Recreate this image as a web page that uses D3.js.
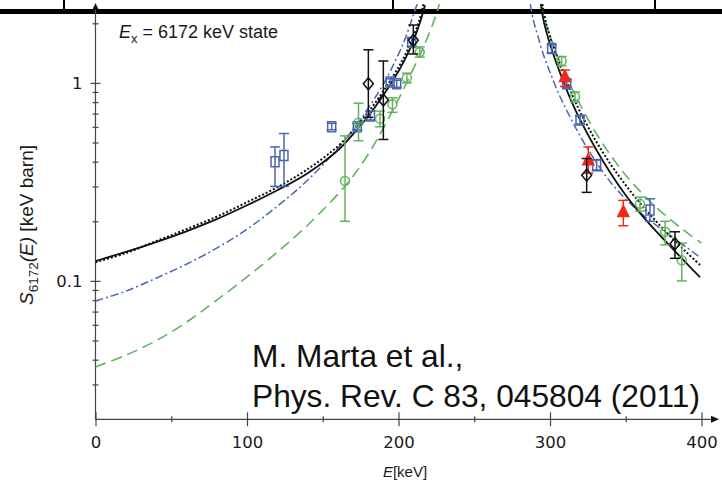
<!DOCTYPE html>
<html>
<head>
<meta charset="utf-8">
<script src="https://cdn.jsdelivr.net/npm/d3@7"></script>
<style>
  html, body { margin: 0; padding: 0; background: #fff; }
  svg { display: block; }
</style>
</head>
<body>
<div id="chart"></div>
<script>
// Ex = 6172 keV state, E in keV, S in keV barn
// points: [E, S, lower, upper]
const squares = [
	[118.5, 0.40, 0.30, 0.475], [124.4, 0.43, 0.30, 0.555], [155.9, 0.60, 0.58, 0.625],
	[172.8, 0.60, 0.58, 0.625], [181.5, 0.68, 0.65, 0.72], [194.5, 1.01, 0.97, 1.05],
	[198.8, 0.99, 0.95, 1.03], [208.7, 1.60, 1.53, 1.68],
	[301.1, 1.49, 1.42, 1.56], [311.0, 0.99, 0.95, 1.04], [319.8, 0.65, 0.62, 0.68],
	[330.8, 0.385, 0.36, 0.41], [366.0, 0.228, 0.20, 0.26]
];
const circles = [
	[164.7, 0.32, 0.20, 0.54], [173.6, 0.63, 0.51, 0.79], [187.8, 0.66, 0.60, 0.72],
	[196.0, 0.78, 0.71, 0.84], [205.5, 1.06, 1.00, 1.12], [214.0, 1.43, 1.35, 1.52],
	[307.7, 1.29, 1.22, 1.36], [316.5, 0.85, 0.80, 0.90], [359.4, 0.245, 0.225, 0.265],
	[376.0, 0.177, 0.152, 0.20], [387.0, 0.127, 0.10, 0.155]
];
const diamonds = [
	[180.1, 0.99, 0.67, 1.47], [190.0, 0.82, 0.518, 1.29], [209.8, 1.64, 1.40, 1.96],
	[324.2, 0.342, 0.28, 0.415], [382.5, 0.154, 0.13, 0.177]
];
const triangles = [
	[309.9, 1.07, 0.96, 1.16], [325.3, 0.407, 0.35, 0.475], [348.4, 0.223, 0.19, 0.255]
];

// calculated S-factor curves: [E, S], below and above the resonance
const solidLeft = [[0, 0.126], [20, 0.140], [40, 0.157], [60, 0.178], [80, 0.205], [100, 0.241], [120, 0.287], [140, 0.350], [160, 0.457], [170, 0.551], [180, 0.679], [190, 0.867], [200, 1.146], [205, 1.348], [210, 1.643], [214, 2.0], [217.5, 2.47]];
const solidRight = [[294, 2.498], [296, 2.026], [300, 1.569], [305, 1.2145], [310, 0.9623], [315, 0.7803], [320, 0.6481], [330, 0.4679], [340, 0.3499], [350, 0.2709], [360, 0.2172], [370, 0.1782], [380, 0.148], [390, 0.1229], [399, 0.1044]];
const dottedLeft = [[0, 0.1243], [20, 0.1381], [40, 0.1588], [60, 0.1824], [80, 0.211], [100, 0.2497], [120, 0.2973], [140, 0.3665], [160, 0.4789], [170, 0.5768], [180, 0.7112], [190, 0.9081], [200, 1.2], [205, 1.413], [210, 1.722], [214, 2.098], [216.5, 2.5]];
const dottedRight = [[295, 2.498], [297, 2.074], [300, 1.722], [305, 1.3332], [310, 1.0561], [315, 0.8566], [320, 0.7112], [330, 0.5135], [340, 0.3885], [350, 0.3043], [360, 0.244], [370, 0.2002], [380, 0.1662], [390, 0.1396], [400, 0.1186]];
const dashDotLeft = [[0, 0.0792], [20, 0.0887], [40, 0.1032], [60, 0.1214], [80, 0.1463], [100, 0.1824], [120, 0.2383], [140, 0.3224], [160, 0.4679], [170, 0.5768], [180, 0.745], [190, 0.9849], [200, 1.396], [205, 1.722], [210, 2.223], [212.3, 2.5]];
const dashDotRight = [[287, 2.498], [289, 2.074], [292, 1.722], [296, 1.364], [300, 1.133], [305, 0.9081], [310, 0.7538], [315, 0.6332], [320, 0.538], [330, 0.4023], [340, 0.3151], [350, 0.2586], [360, 0.2198], [370, 0.1911], [380, 0.1682], [390, 0.148], [399, 0.1317]];
const dashedLeft = [[0, 0.03678], [20, 0.04215], [40, 0.04989], [60, 0.06185], [80, 0.07991], [100, 0.1047], [120, 0.1396], [140, 0.1911], [160, 0.2741], [170, 0.338], [180, 0.4364], [190, 0.5903], [200, 0.8274], [210, 1.1867], [215, 1.4294], [220, 1.762], [224, 2.122], [227, 2.498]];
const dashedRight = [[294, 2.498], [297, 2.026], [300, 1.722], [305, 1.364], [310, 1.106], [315, 0.9186], [320, 0.7718], [330, 0.5636], [340, 0.4313], [350, 0.3419], [360, 0.2805], [370, 0.2356], [380, 0.2026], [390, 0.1762], [400, 0.155]];

const xTicks = [0, 100, 200, 300, 400];
const xMinor = [50, 150, 250, 350];
const yTicks = [0.1, 1];
const yMinor = [0.03, 0.04, 0.05, 0.06, 0.07, 0.08, 0.09, 0.2, 0.3, 0.4, 0.5, 0.6, 0.7, 0.8, 0.9, 2];

const citation = ['M. Marta et al.,', 'Phys. Rev. C 83, 045804 (2011)'];

const width = 722;
const height = 482;

const blue = '#4a66b0',
	green = '#62b35e',
	red = '#f2281c',
	axisColor = '#444';

const svg = d3
	.select('#chart')
	.append('svg')
	.attr('width', width)
	.attr('height', height)
	.attr('viewBox', [0, 0, width, height]);

const x = d3.scaleLinear().domain([0, 400]).range([95.5, 701.5]);
const y = d3.scaleLog().domain([0.02, 2.5]).range([419.3, 4.1]);

// header rule of the slide
svg.append('rect').attr('x', 0).attr('y', 9).attr('width', width).attr('height', 5).attr('fill', '#000');
svg
	.selectAll('line.sep')
	.data([64, 393, 655])
	.enter()
	.append('line')
	.attr('class', 'sep')
	.attr('x1', (d) => d)
	.attr('x2', (d) => d)
	.attr('y1', 0)
	.attr('y2', 10)
	.attr('stroke', '#000')
	.attr('stroke-width', 2);

// axes
const gx = svg
	.append('g')
	.attr('transform', 'translate(0,' + y.range()[0] + ')')
	.call(d3.axisBottom(x).tickValues(xTicks).tickSize(7).tickPadding(10).tickSizeOuter(0));
gx.selectAll('.tick line').attr('y1', -7);
gx.select('.domain').remove();

const gxm = svg
	.append('g')
	.attr('transform', 'translate(0,' + y.range()[0] + ')')
	.call(d3.axisBottom(x).tickValues(xMinor).tickSize(3).tickFormat(''));
gxm.selectAll('.tick line').attr('y1', -3);
gxm.select('.domain').remove();

const gy = svg
	.append('g')
	.attr('transform', 'translate(' + x(0) + ',0)')
	.call(d3.axisLeft(y).tickValues(yTicks).tickFormat(d3.format('~g')).tickSize(5).tickPadding(8));
gy.selectAll('.tick line').attr('x1', 5);
gy.select('.domain').remove();

const gym = svg
	.append('g')
	.attr('transform', 'translate(' + x(0) + ',0)')
	.call(d3.axisLeft(y).tickValues(yMinor).tickSize(3).tickFormat(''));
gym.selectAll('.tick line').attr('x1', 3);
gym.select('.domain').remove();

svg
	.selectAll('.tick line')
	.attr('stroke', axisColor)
	.attr('stroke-width', 1.2);
svg
	.selectAll('.tick text')
	.style('font-family', '"DejaVu Sans", sans-serif')
	.style('font-size', '16.5px')
	.attr('fill', '#1a1a1a');

// axis lines with arrow heads
svg
	.append('line')
	.attr('x1', x(0))
	.attr('x2', 713)
	.attr('y1', y.range()[0])
	.attr('y2', y.range()[0])
	.attr('stroke', axisColor)
	.attr('stroke-width', 1.2);
svg
	.append('path')
	.attr('d', 'M711,415.8L719,419.3L711,422.8Z')
	.attr('fill', '#111');
svg
	.append('line')
	.attr('x1', x(0))
	.attr('x2', x(0))
	.attr('y1', y.range()[0])
	.attr('y2', 6)
	.attr('stroke', axisColor)
	.attr('stroke-width', 1.2);
svg
	.append('path')
	.attr('d', 'M92.5,9.5L95.5,3L98.5,9.5Z')
	.attr('fill', '#111');

// curves
svg
	.append('clipPath')
	.attr('id', 'plot-clip')
	.append('rect')
	.attr('x', x(0))
	.attr('y', 4.1)
	.attr('width', 720 - x(0))
	.attr('height', y.range()[0] - 4.1);

const line = d3
	.line()
	.x((d) => x(d[0]))
	.y((d) => y(d[1]))
	.curve(d3.curveCatmullRom.alpha(0.5));

const curves = svg.append('g').attr('clip-path', 'url(#plot-clip)').attr('fill', 'none');

const curveStyles = [
	{ data: [dashedLeft, dashedRight], color: green, width: 1.6, dash: '11,6' },
	{ data: [dashDotLeft, dashDotRight], color: blue, width: 1.5, dash: '8,3,2,3' },
	{ data: [dottedLeft, dottedRight], color: '#111', width: 2, dash: '2,2' },
	{ data: [solidLeft, solidRight], color: '#111', width: 1.8, dash: null }
];

curveStyles.forEach((s) => {
	curves
		.selectAll(null)
		.data(s.data)
		.enter()
		.append('path')
		.attr('d', line)
		.attr('stroke', s.color)
		.attr('stroke-width', s.width)
		.attr('stroke-dasharray', s.dash);
});

// data points with error bars
function drawPoints(data, color, shape, filled) {
	const g = svg.append('g').attr('stroke', color).attr('stroke-width', 1.5).attr('fill', 'none');
	const pt = g.selectAll('g').data(data).enter().append('g');

	pt.append('line')
		.attr('x1', (d) => x(d[0]))
		.attr('x2', (d) => x(d[0]))
		.attr('y1', (d) => y(d[2]))
		.attr('y2', (d) => y(d[3]));
	pt.append('line')
		.attr('x1', (d) => x(d[0]) - 5)
		.attr('x2', (d) => x(d[0]) + 5)
		.attr('y1', (d) => y(d[2]))
		.attr('y2', (d) => y(d[2]));
	pt.append('line')
		.attr('x1', (d) => x(d[0]) - 5)
		.attr('x2', (d) => x(d[0]) + 5)
		.attr('y1', (d) => y(d[3]))
		.attr('y2', (d) => y(d[3]));

	pt.append('path')
		.attr('d', (d) => shape(x(d[0]), y(d[1])))
		.attr('fill', filled ? color : 'none');
}

const squareShape = (cx, cy) => 'M' + (cx - 4) + ',' + (cy - 5) + 'h8v10h-8Z';
const circleShape = (cx, cy) => 'M' + (cx - 4.5) + ',' + cy + 'a4.5,4.5 0 1,0 9,0a4.5,4.5 0 1,0 -9,0Z';
const diamondShape = (cx, cy) => 'M' + cx + ',' + (cy - 6) + 'L' + (cx + 5) + ',' + cy + 'L' + cx + ',' + (cy + 6) + 'L' + (cx - 5) + ',' + cy + 'Z';
const triangleShape = (cx, cy) => 'M' + cx + ',' + (cy - 6.5) + 'L' + (cx + 5.5) + ',' + (cy + 4.5) + 'L' + (cx - 5.5) + ',' + (cy + 4.5) + 'Z';

drawPoints(squares, blue, squareShape, false);
drawPoints(circles, green, circleShape, false);
drawPoints(triangles, red, triangleShape, true);
drawPoints(diamonds, '#111', diamondShape, false);

// labels
const sans = '"Liberation Sans", Arial, Helvetica, sans-serif';

const state = svg.append('text').attr('x', 119).attr('y', 37.5).style('font-family', sans).style('font-size', '18px').attr('fill', '#1a1a1a');
state.append('tspan').text('E').style('font-style', 'italic');
state.append('tspan').text('x').attr('dy', 5).style('font-size', '13px');
state.append('tspan').text(' = 6172 keV state').attr('dy', -5);

const ylab = svg
	.append('text')
	.attr('transform', 'translate(33,225) rotate(-90)')
	.style('text-anchor', 'middle')
	.style('font-family', sans)
	.style('font-size', '19px')
	.attr('fill', '#1a1a1a');
ylab.append('tspan').text('S').style('font-style', 'italic');
ylab.append('tspan').text('6172').attr('dy', 5).style('font-size', '13.5px');
ylab.append('tspan').text('(E)').attr('dy', -5).style('font-style', 'italic');
ylab.append('tspan').text(' [keV barn]');

const xlab = svg
	.append('text')
	.attr('x', 405)
	.attr('y', 476.5)
	.style('text-anchor', 'middle')
	.style('font-family', sans)
	.style('font-size', '15px')
	.attr('fill', '#1a1a1a');
xlab.append('tspan').text('E').style('font-style', 'italic');
xlab.append('tspan').text('[keV]');

svg
	.append('g')
	.selectAll('text')
	.data(citation)
	.enter()
	.append('text')
	.attr('x', 252)
	.attr('y', (d, i) => 366.7 + i * 40)
	.text((d) => d)
	.style('font-family', sans)
	.style('font-size', '31.7px')
	.attr('fill', '#111');
</script>
</body>
</html>
